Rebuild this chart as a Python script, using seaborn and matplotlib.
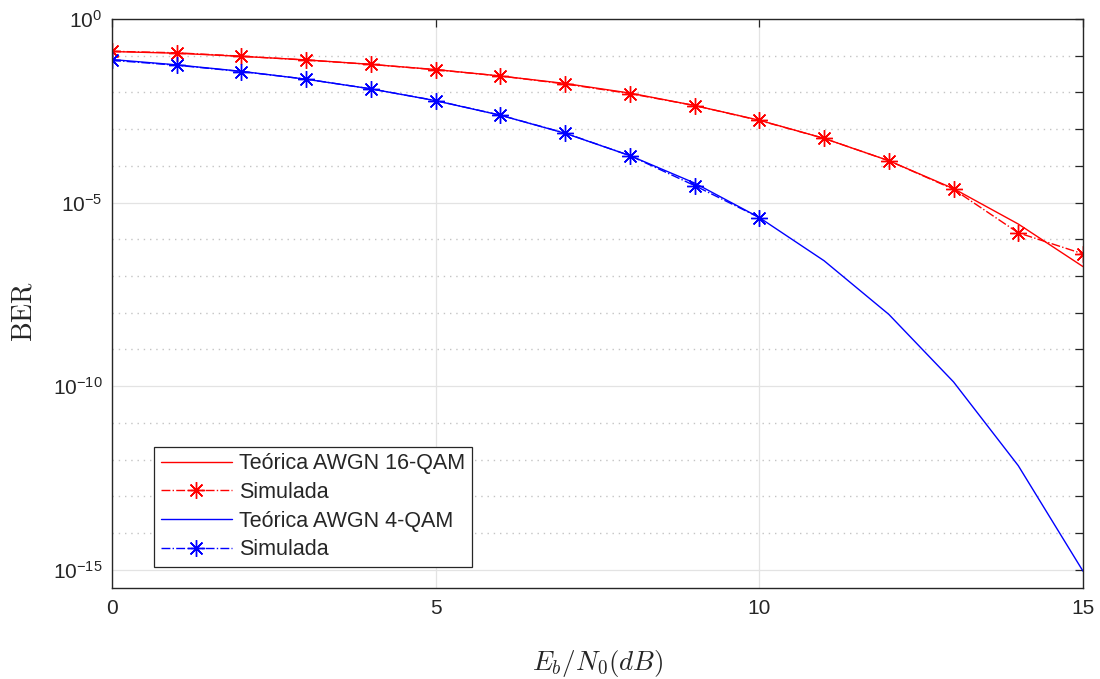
import numpy as np
import pandas as pd
import seaborn as sns
import matplotlib
matplotlib.use('Agg')
from matplotlib import pyplot as plt
from matplotlib.ticker import FixedLocator, NullFormatter, LogFormatterSciNotation

# Eb/N0 (dB) axis
ebn0 = list(range(0, 16))
ebn0_sim4 = list(range(0, 11))

# values
ber_16qam_theory = [1.30e-1, 1.17e-1, 9.6e-2, 7.7e-2, 5.8e-2, 4.2e-2, 2.8e-2, 1.75e-2,
                    9.6e-3, 4.4e-3, 1.75e-3, 5.6e-4, 1.38e-4, 2.4e-5, 2.6e-6, 1.8e-7]
ber_16qam_sim = [1.32e-1, 1.20e-1, 9.7e-2, 7.6e-2, 5.8e-2, 4.15e-2, 2.8e-2, 1.7e-2,
                 9.3e-3, 4.4e-3, 1.72e-3, 5.6e-4, 1.38e-4, 2.3e-5, 1.5e-6, 4.0e-7]
ber_4qam_theory = [7.86e-2, 5.63e-2, 3.75e-2, 2.29e-2, 1.25e-2, 5.95e-3, 2.39e-3, 7.7e-4,
                   1.9e-4, 3.4e-5, 3.9e-6, 2.6e-7, 9.0e-9, 1.3e-10, 6.8e-13, 9.1e-16]
ber_4qam_sim = [7.5e-2, 5.5e-2, 3.7e-2, 2.3e-2, 1.25e-2, 6.0e-3, 2.4e-3, 7.8e-4,
                1.9e-4, 2.9e-5, 3.9e-6]

labels = ['Teórica AWGN 16-QAM', 'Simulada', 'Teórica AWGN 4-QAM', 'Simulada']

sns.set_style('white')
plt.rcParams['font.family'] = ['Liberation Sans', 'DejaVu Sans']
plt.rcParams['mathtext.fontset'] = 'custom'
plt.rcParams['mathtext.rm'] = 'Liberation Sans'
plt.rcParams['mathtext.it'] = 'Liberation Sans:italic'

fig = plt.figure(figsize=(11, 6.79), dpi=100)
ax = fig.add_axes([112/1100, 1-588/679, 971/1100, 569/679])

df16 = pd.DataFrame({'x': ebn0, 'theory': ber_16qam_theory, 'sim': ber_16qam_sim})
df4 = pd.DataFrame({'x': ebn0, 'theory': ber_4qam_theory})
df4s = pd.DataFrame({'x': ebn0_sim4, 'sim': ber_4qam_sim})

ast = (8, 2, 0)
sns.lineplot(data=df16, x='x', y='theory', ax=ax, color='#ff0000', lw=1.0, label=labels[0])
sns.lineplot(data=df16, x='x', y='sim', ax=ax, color='#ff0000', lw=1.0, linestyle='-.',
             marker=ast, markersize=12, markeredgewidth=1.0, markeredgecolor='#ff0000', label=labels[1])
sns.lineplot(data=df4, x='x', y='theory', ax=ax, color='#0000ff', lw=1.0, label=labels[2])
sns.lineplot(data=df4s, x='x', y='sim', ax=ax, color='#0000ff', lw=1.0, linestyle='-.',
             marker=ast, markersize=12, markeredgewidth=1.0, markeredgecolor='#0000ff', label=labels[3])

ax.set_yscale('log')
ax.set_xlim(0, 15)
ax.set_ylim(10**-15.5, 1)

major_y = [10.0**e for e in (0, -5, -10, -15)]
minor_y = [10.0**-e for e in range(1, 16) if e % 5 != 0]
ax.yaxis.set_major_locator(FixedLocator(major_y))
ax.yaxis.set_major_formatter(LogFormatterSciNotation())
ax.yaxis.set_minor_locator(FixedLocator(minor_y))
ax.yaxis.set_minor_formatter(NullFormatter())
ax.set_xticks([0, 5, 10, 15])

ax.grid(True, which='major', color='#e3e3e3', lw=0.9, ls='-')
ax.grid(True, which='minor', axis='y', color='#c4c4c4', lw=1.0, ls=(0, (1, 3.5)))
ax.set_axisbelow(True)

ax.tick_params(which='both', direction='in', top=True, right=True, labelsize=15,
               color='#262626', labelcolor='#262626', width=0.9, length=6)
ax.tick_params(axis='y', pad=7)
ax.tick_params(axis='x', pad=8)
for s in ax.spines.values():
    s.set_color('#262626')
    s.set_linewidth(1.0)

ax.set_xlabel(r'$E_b/N_0(dB)$', fontsize=19.5, math_fontfamily='cm')
ax.set_ylabel(r'$\mathrm{BER}$', fontsize=20, math_fontfamily='cm')
ax.xaxis.set_label_coords(0.5, -0.105)
ax.yaxis.set_label_coords(-0.077, 0.485)

leg = ax.legend(loc='lower left', bbox_to_anchor=(0.0433, 0.037), borderaxespad=0,
                fontsize=15.5, handlelength=3.33, labelspacing=0.36, borderpad=0.3,
                handletextpad=0.33, fancybox=False, framealpha=1, edgecolor='#262626')
leg.get_frame().set_linewidth(0.9)

fig.savefig('out.png', dpi=100)
